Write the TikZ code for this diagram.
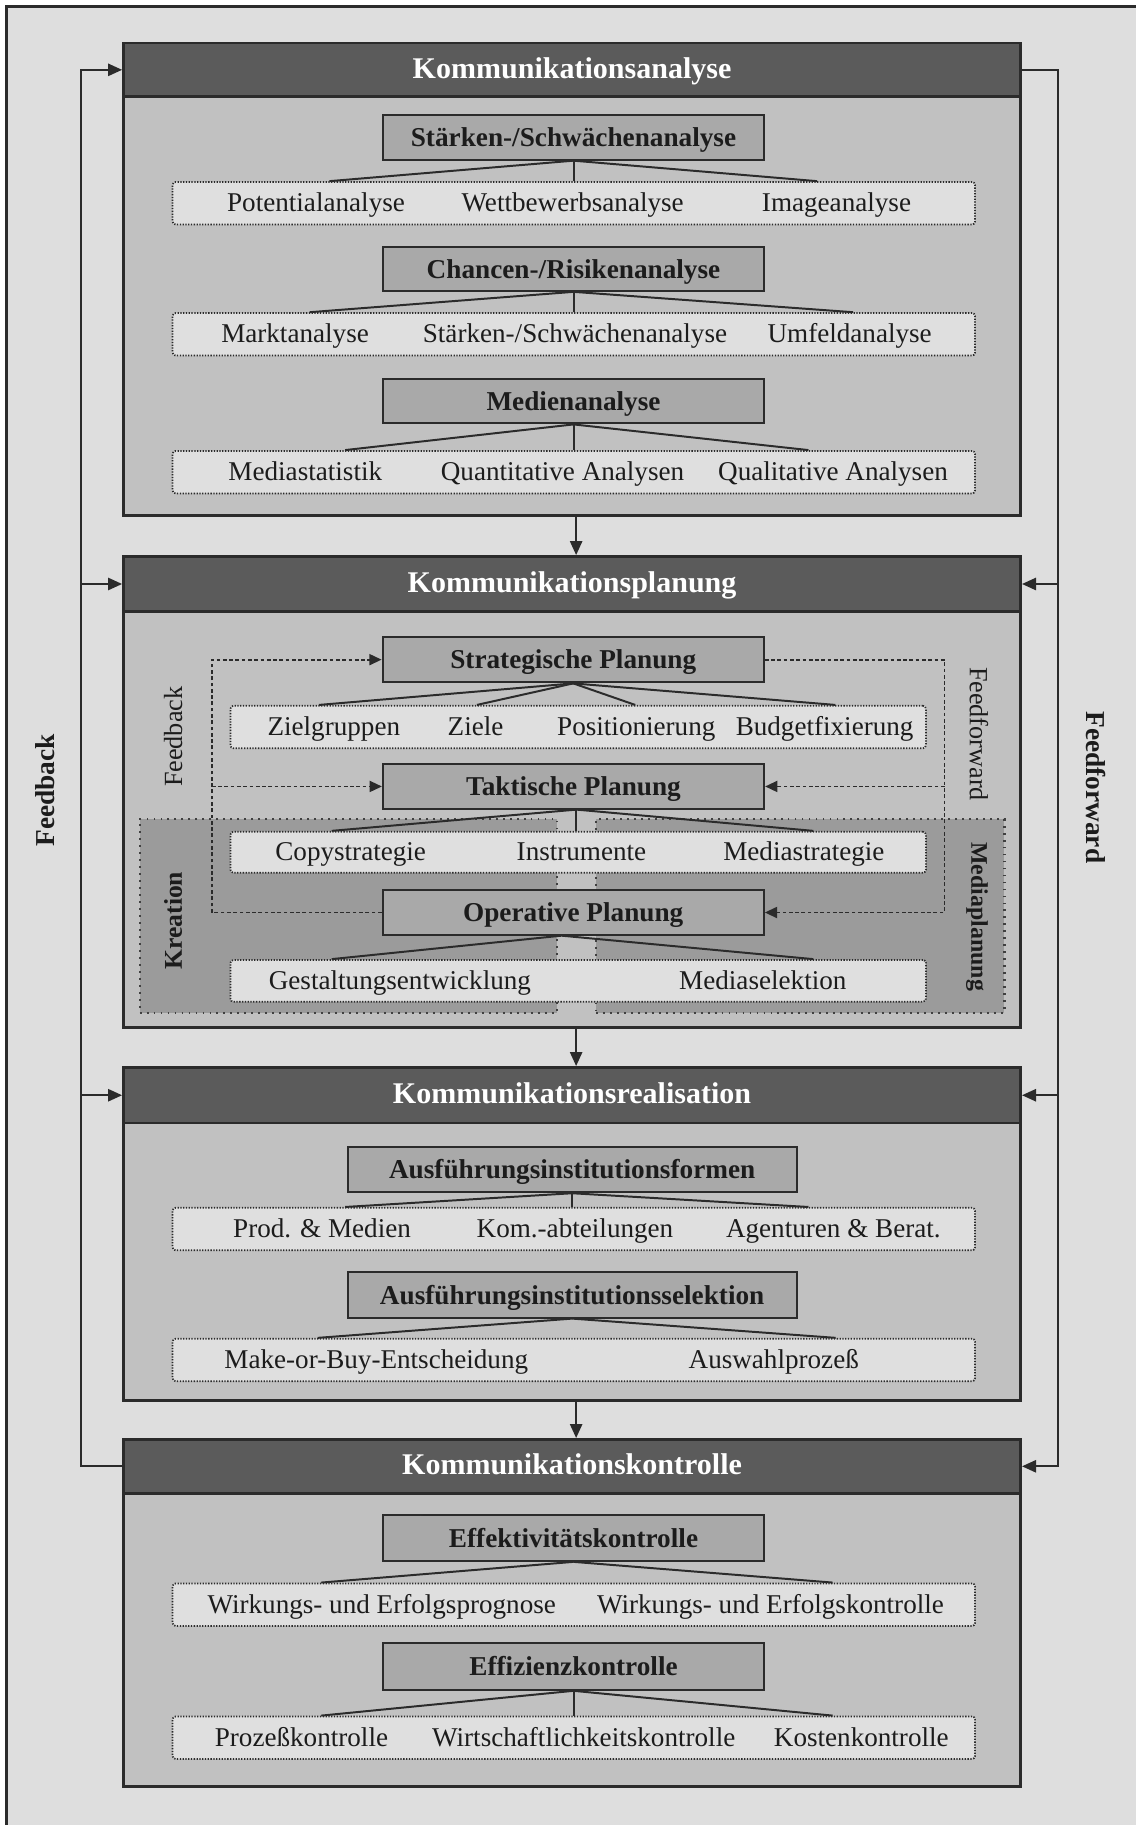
\documentclass[tikz,border=0pt]{standalone}
\usepackage{fontspec}
\setmainfont{Liberation Serif}
\usetikzlibrary{arrows.meta,calc}

\definecolor{bgc}{HTML}{DEDEDE}
\definecolor{bodyc}{HTML}{C1C1C1}
\definecolor{headc}{HTML}{5B5B5B}
\definecolor{subc}{HTML}{A9A9A9}
\definecolor{rowc}{HTML}{DFDFDF}
\definecolor{regc}{HTML}{9B9B9B}
\definecolor{linec}{HTML}{2B2B2B}
\definecolor{txtc}{HTML}{1C1C1C}

\newcommand\fsz[1]{\fontsize{#1}{#1}\selectfont}

\tikzset{
  mainbox/.style={draw=linec, fill=bodyc, line width=2.2pt, inner sep=0pt, minimum width=771pt},
  headbox/.style={draw=linec, fill=headc, line width=2.2pt, inner sep=0pt, minimum width=771pt,
    text=white, font=\fsz{25.8}\bfseries, text height=20pt, text depth=5.4pt},
  subbox/.style={draw=linec, fill=subc, line width=1.8pt, inner sep=0pt, minimum height=38pt,
    font=\fsz{23.4}\bfseries, text=txtc, text height=20pt, text depth=4pt},
  rowbox/.style={draw=linec, fill=rowc, line width=1.5pt, dash pattern=on 1.1pt off 1.3pt,
    rounded corners=2.5pt, inner sep=0pt, minimum height=36.5pt},
  item/.style={font=\fsz{23.3}, text=txtc, inner sep=0pt, text height=19pt, text depth=4.5pt},
  region/.style={draw=linec!90, fill=regc, line width=1.8pt, dash pattern=on 1.6pt off 4.4pt, inner sep=0pt},
  conn/.style={draw=linec, line width=1.7pt},
  outarr/.style={draw=linec, line width=1.6pt, -{Triangle[length=12pt,width=10.5pt]}},
  dline/.style={draw=linec, line width=1.5pt, dash pattern=on 3.2pt off 2.2pt},
  darr/.style={dline, -{Triangle[length=10.5pt,width=9.5pt]}},
  sidelabel/.style={font=\fsz{23.5}\bfseries, text=txtc, inner sep=0pt},
  innerlabel/.style={font=\fsz{22.5}, text=txtc, inner sep=0pt},
}

\begin{document}
\begin{tikzpicture}[x=1pt,y=-1pt]
\useasboundingbox (0,0) rectangle (976,1568);
\fill[white] (0,0) rectangle (976,1568);
\draw[draw=linec, line width=2.2pt, fill=bgc] (5.7,5.7) rectangle (1000,1600);

% ---------------- Kommunikationsanalyse ----------------
\node[mainbox, minimum height=406pt] (b1) at (491.5,240) {};
\node[headbox, minimum height=46pt] (h1) at (491.5,60) {Kommunikationsanalyse};

\node[subbox, minimum width=327.5pt] (s11) at (492.75,118.15) {Stärken-/Schwächenanalyse};
\node[rowbox, minimum width=689.4pt] (r11) at (493,174.65) {};
\node[item] (i111) at (271.5,174.65) {Potentialanalyse};
\node[item] (i112) at (492,174.65) {Wettbewerbsanalyse};
\node[item] (i113) at (718.7,174.65) {Imageanalyse};
\draw[conn] (s11.south) -- ($(r11.north)+(-210,0)$);
\draw[conn] (s11.south) -- (s11.south |- r11.north);
\draw[conn] (s11.south) -- ($(r11.north)+(209,0)$);

\node[subbox, minimum width=327.5pt] (s12) at (492.75,230.85) {Chancen-/Risikenanalyse};
\node[rowbox, minimum width=689.4pt] (r12) at (493,287.25) {};
\node[item] (i121) at (253.5,287.25) {Marktanalyse};
\node[item] (i122) at (494,287.25) {Stärken-/Schwächenanalyse};
\node[item] (i123) at (730,287.25) {Umfeldanalyse};
\draw[conn] (s12.south) -- ($(r12.north)+(-227,0)$);
\draw[conn] (s12.south) -- (s12.south |- r12.north);
\draw[conn] (s12.south) -- ($(r12.north)+(240,0)$);

\node[subbox, minimum width=327.5pt] (s13) at (492.75,344.75) {Medienanalyse};
\node[rowbox, minimum width=689.4pt] (r13) at (493,405.7) {};
\node[item] (i131) at (262.3,405.7) {Mediastatistik};
\node[item] (i132) at (483.3,405.7) {Quantitative Analysen};
\node[item] (i133) at (715.7,405.7) {Qualitative Analysen};
\draw[conn] (s13.south) -- ($(r13.north)+(-196.5,0)$);
\draw[conn] (s13.south) -- (s13.south |- r13.north);
\draw[conn] (s13.south) -- ($(r13.north)+(201.6,0)$);

% ---------------- Kommunikationsplanung ----------------
\node[mainbox, minimum height=405pt] (b2) at (491.5,680.5) {};
\node[headbox, minimum height=47.5pt] (h2) at (491.5,501.75) {Kommunikationsplanung};

% Kreation and Mediaplanung areas
\node[region, minimum width=358.6pt, minimum height=166.3pt] (kre) at (299.3,786.85) {};
\node[region, minimum width=351pt, minimum height=166.3pt] (med) at (687.5,786.85) {};

\node[subbox, minimum width=327.5pt, minimum height=39pt] (s21) at (492.5,566.75) {Strategische Planung};
\node[subbox, minimum width=327.5pt] (s22) at (492.75,675.7) {Taktische Planung};
\node[subbox, minimum width=327.5pt] (s23) at (492.5,784) {Operative Planung};

% inner feedback / feedforward loops
\coordinate (pfb) at (182,0);
\coordinate (pff) at (811.5,0);
\draw[darr] (s23.west) -- (pfb |- s23.west) -- (pfb |- s21.west) -- (s21.west);
\draw[darr] (pfb |- s22.west) -- (s22.west);
\draw[darr] (s21.east) -- (pff |- s21.east) -- (pff |- s23.east) -- (s23.east);
\draw[darr] (pff |- s22.east) -- (s22.east);

\node[innerlabel, rotate=90] (lfb) at (148.8,633) {Feedback};
\node[innerlabel, rotate=-90] (lff) at (841,630.6) {Feedforward};
\node[font=\fsz{22}\bfseries, text=txtc, inner sep=0pt, rotate=90] (lkre) at (148.8,791) {Kreation};
\node[font=\fsz{20.5}\bfseries, text=txtc, inner sep=0pt, rotate=-90] (lmed) at (839.5,787.6) {Mediaplanung};

\node[rowbox, minimum width=597.5pt] (r21) at (496.75,624.65) {};
\node[item] (i211) at (286.8,624.65) {Zielgruppen};
\node[item] (i212) at (408.6,624.65) {Ziele};
\node[item] (i213) at (546.7,624.65) {Positionierung};
\node[item] (i214) at (708.5,624.65) {Budgetfixierung};
\draw[conn] (s21.south) -- ($(r21.north)+(-222.75,0)$);
\draw[conn] (s21.south) -- ($(r21.north)+(-87,0)$);
\draw[conn] (s21.south) -- ($(r21.north)+(49,0)$);
\draw[conn] (s21.south) -- ($(r21.north)+(221,0)$);

\node[rowbox, minimum width=597.5pt, minimum height=35.2pt] (r22) at (496.75,732.2) {};
\node[item] (i221) at (301.3,732.2) {Copystrategie};
\node[item] (i222) at (499.6,732.2) {Instrumente};
\node[item] (i223) at (690.7,732.2) {Mediastrategie};
\draw[conn] ([xshift=2.5pt]s22.south) -- ($(r22.north)+(-211.75,0)$);
\draw[conn] ([xshift=2.5pt]s22.south) -- ([xshift=2.5pt]s22.south |- r22.north);
\draw[conn] ([xshift=2.5pt]s22.south) -- ($(r22.north)+(202,0)$);

\node[rowbox, minimum width=597.5pt, minimum height=35.8pt] (r23) at (496.75,842.7) {};
\node[item] (i231) at (343.6,842.7) {Gestaltungsentwicklung};
\node[item] (i232) at (655.4,842.7) {Mediaselektion};
\draw[conn] ([xshift=-10pt]s23.south) -- ($(r23.north)+(-211.75,0)$);
\draw[conn] ([xshift=-10pt]s23.south) -- ($(r23.north)+(202,0)$);

% ---------------- Kommunikationsrealisation ----------------
\node[mainbox, minimum height=286.4pt] (b3) at (491.5,1060.2) {};
\node[headbox, minimum height=48pt] (h3) at (491.5,941) {Kommunikationsrealisation};

\node[subbox, minimum width=385.6pt, minimum height=39pt] (s31) at (491.6,1004.8) {Ausführungsinstitutionsformen};
\node[rowbox, minimum width=689.4pt] (r31) at (493,1056) {};
\node[item] (i311) at (276.7,1056) {Prod. \& Medien};
\node[item] (i312) at (494,1056) {Kom.-abteilungen};
\node[item] (i313) at (716,1056) {Agenturen \& Berat.};
\draw[conn] (s31.south) -- ($(r31.north)+(-196.5,0)$);
\draw[conn] (s31.south) -- (s31.south |- r31.north);
\draw[conn] (s31.south) -- ($(r31.north)+(201.6,0)$);

\node[subbox, minimum width=385.6pt, minimum height=39pt] (s32) at (491.6,1112.5) {Ausführungsinstitutionsselektion};
\node[rowbox, minimum width=689.4pt] (r32) at (493,1168.45) {};
\node[item] (i321) at (323.3,1168.45) {Make-or-Buy-Entscheidung};
\node[item] (i322) at (664.8,1168.45) {Auswahlprozeß};
\draw[conn] (s32.south) -- ($(r32.north)+(-220,0)$);
\draw[conn] (s32.south) -- ($(r32.north)+(225,0)$);

% ---------------- Kommunikationskontrolle ----------------
\node[mainbox, minimum height=298.4pt] (b4) at (491.5,1385.8) {};
\node[headbox, minimum height=46.4pt] (h4) at (491.5,1259.8) {Kommunikationskontrolle};

\node[subbox, minimum width=327.5pt, minimum height=39pt] (s41) at (492.75,1321.5) {Effektivitätskontrolle};
\node[rowbox, minimum width=689.4pt] (r41) at (493,1378.7) {};
\node[item] (i411) at (328,1378.7) {Wirkungs- und Erfolgsprognose};
\node[item] (i412) at (662,1378.7) {Wirkungs- und Erfolgskontrolle};
\draw[conn] (s41.south) -- ($(r41.north)+(-217,0)$);
\draw[conn] (s41.south) -- ($(r41.north)+(222.4,0)$);

\node[subbox, minimum width=327.5pt, minimum height=40pt] (s42) at (492.75,1431.8) {Effizienzkontrolle};
\node[rowbox, minimum width=689.4pt] (r42) at (493,1493) {};
\node[item] (i421) at (259,1493) {Prozeßkontrolle};
\node[item] (i422) at (501.5,1493) {Wirtschaftlichkeitskontrolle};
\node[item] (i423) at (740,1493) {Kostenkontrolle};
\draw[conn] (s42.south) -- ($(r42.north)+(-217,0)$);
\draw[conn] (s42.south) -- (s42.south |- r42.north);
\draw[conn] (s42.south) -- ($(r42.north)+(222.4,0)$);

% ---------------- flow between the stages ----------------
\draw[outarr] ([xshift=3.5pt]b1.south) -- ([xshift=3.5pt]h2.north);
\draw[outarr] ([xshift=3.5pt]b2.south) -- ([xshift=3.5pt]h3.north);
\draw[outarr] ([xshift=3.5pt]b3.south) -- ([xshift=3.5pt]h4.north);

% outer feedback loop (left)
\coordinate (fbx) at (69.3,0);
\draw[outarr] (h4.west) -- (fbx |- h4.west) -- (fbx |- h1.west) -- (h1.west);
\draw[outarr] (fbx |- h2.west) -- (h2.west);
\draw[outarr] (fbx |- h3.west) -- (h3.west);
\node[sidelabel, rotate=90] (fbl) at (38.7,679) {Feedback};

% outer feedforward loop (right)
\coordinate (ffx) at (909,0);
\draw[outarr] (h1.east) -- (ffx |- h1.east) -- (ffx |- h4.east) -- (h4.east);
\draw[outarr] (ffx |- h2.east) -- (h2.east);
\draw[outarr] (ffx |- h3.east) -- (h3.east);
\node[sidelabel, rotate=-90] (ffl) at (942,676.5) {Feedforward};
\end{tikzpicture}
\end{document}
